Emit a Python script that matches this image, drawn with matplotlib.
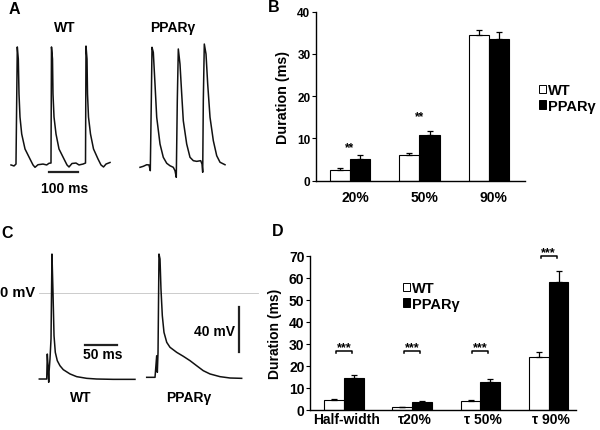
import matplotlib
matplotlib.use('Agg')
import matplotlib.pyplot as plt
import numpy as np
from matplotlib.patches import Patch

plt.rcParams['font.family'] = ['Liberation Sans', 'DejaVu Sans']
plt.rcParams['font.weight'] = 'bold'
plt.rcParams['axes.labelweight'] = 'bold'

# ---------------- data ----------------
# Panel A: spontaneous action potentials (time ms, voltage mV)
a_wt_t = [0, 10.3, 17.2, 21.7, 25.2, 27.6, 31.0, 36.9, 48.3, 65.5, 75.9, 82.8, 93.1, 110.3, 123.1, 131.0,
          137.9, 139.6, 143.1, 144.8, 148.3, 155.2, 165.5, 182.7, 193.1, 200.0, 210.3, 224.1, 234.5, 248.3,
          256.9, 258.6, 262.1, 263.8, 267.2, 274.1, 284.5, 300.0, 310.3, 319.0, 327.6, 341.4]
a_wt_v = [-74.9, -75.8, -74.1, 30.0, 19.3, -11.8, -32.3, -47.4, -60.7, -69.6, -74.9, -77.0, -74.7, -74.1,
          -74.9, -73.4, -73.2, 30.0, 19.3, -11.8, -32.3, -47.4, -60.7, -69.6, -74.9, -76.7, -73.6, -73.2,
          -74.9, -74.1, -73.2, 30.8, 19.3, -11.8, -32.3, -47.4, -60.7, -69.6, -74.9, -76.7, -74.1, -72.7]
a_pp_t = [0, 11.4, 23.1, 31.0, 35.5, 39.0, 41.4, 45.9, 51.7, 57.6, 69.0, 80.3, 92.1, 103.4, 114.8, 120.7,
          125.1, 128.6, 132.1, 137.9, 143.8, 149.3, 161.0, 172.4, 183.8, 195.5, 209.3, 213.8, 216.2, 218.3,
          221.7, 227.6, 233.4, 241.4, 252.8, 264.5, 275.9, 293.1]
a_pp_v = [-77.0, -76.1, -74.7, -74.9, -80.0, -17.8, 29.7, 25.2, -2.9, -32.5, -56.3, -68.1, -73.4, -75.6,
          -77.0, -80.0, -85.9, -17.8, 28.2, 14.8, -11.8, -35.6, -56.3, -68.1, -71.1, -71.7, -71.1, -74.1,
          -81.4, -17.8, 32.6, 23.7, -2.9, -32.5, -53.3, -66.7, -72.5, -74.7]

# Panel C: evoked single action potentials (time ms, voltage mV)
c_wt_t = [0, 11.6, 12.5, 13.6, 14.7, 15.2, 16.7, 18.3, 19.8, 21.4, 23.0, 25.0, 28.1, 32.3, 37.5, 48.0,
          58.4, 74.1, 89.7, 115.6, 149.5]
c_wt_v = [-76.2, -76.2, -54.0, -64.4, -79.1, -70.2, -58.4, -40.6, 34.9, 0.9, -37.7, -52.5, -59.9, -64.4,
          -67.9, -71.7, -74.1, -75.6, -76.2, -76.5, -76.5]
c_pp_t = [0, 13.0, 15.6, 16.6, 17.7, 19.2, 20.8, 22.3, 24.4, 27.0, 31.3, 36.4, 46.9, 57.2, 67.7, 78.1,
          88.4, 98.9, 114.5, 130.2, 148.4]
c_pp_v = [-74.7, -74.7, -55.5, -70.2, -52.5, 34.9, 30.5, 3.8, -19.9, -34.7, -43.6, -48.0, -52.5, -56.0,
          -59.9, -64.4, -68.8, -71.7, -74.1, -75.3, -75.6]

# Panel B: APD (ms)
b_cats = ['20%', '50%', '90%']
b_wt = [2.5, 6.0, 34.5]
b_wt_err = [0.4, 0.5, 1.2]
b_pp = [5.1, 10.7, 33.5]
b_pp_err = [1.0, 1.1, 1.6]
b_sig = ['**', '**', '']
b_sig_y = [7.3, 14.6, 0]

# Panel D: durations (ms)
d_cats = ['Half-width', 'τ20%', 'τ 50%', 'τ 90%']
d_wt = [4.3, 1.1, 3.8, 23.8]
d_wt_err = [0.5, 0.2, 0.6, 2.6]
d_pp = [14.3, 3.5, 12.7, 57.9]
d_pp_err = [1.6, 0.6, 1.3, 5.3]
d_sig = ['***', '***', '***', '***']
d_sig_y = [26.8, 26.8, 26.8, 70]

labels = ['WT', 'PPARγ']

# ---------------- layout helpers ----------------
W, H = 600, 431
fig = plt.figure(figsize=(6, 4.31), dpi=100)


def box(x0, y0, x1, y1):
    return [x0 / W, 1 - y1 / H, (x1 - x0) / W, (y1 - y0) / H]


def ftext(x, y, s, **kw):
    kw.setdefault('ha', 'center')
    kw.setdefault('va', 'center')
    kw.setdefault('fontweight', 'bold')
    fig.text(x / W, 1 - y / H, s, **kw)


def trace_axes(x0, y0, x1, y1, t_px0, ms_px, v_px0, mv_px):
    ax = fig.add_axes(box(x0, y0, x1, y1))
    ax.set_xlim((x0 - t_px0) * ms_px, (x1 - t_px0) * ms_px)
    ax.set_ylim((v_px0 - y1) * mv_px, (v_px0 - y0) * mv_px)
    ax.axis('off')
    return ax


TR = dict(color='#111111', lw=1.1)

# ---------------- Panel A ----------------
axA1 = trace_axes(5, 38, 118, 185, 11, 3.448, 81.7, 0.889)
axA1.plot(a_wt_t, a_wt_v, **TR)
axA1.plot([131, 231], [-81.2, -81.2], color='#222222', lw=1.6, clip_on=False)
axA2 = trace_axes(132, 38, 232, 185, 140, 3.448, 81.7, 0.889)
axA2.plot(a_pp_t, a_pp_v, **TR)

ftext(14.5, 10, 'A', fontsize=11.5)
ftext(65, 28, 'WT', fontsize=10)
ftext(172.5, 28, 'PPARγ', fontsize=10)
ftext(64.5, 189, '100 ms', fontsize=10)

# ---------------- Panel C ----------------
axC1 = trace_axes(35, 245, 142, 392, 39.3, 1.5625, 294.3, 0.889)
axC1.plot([0, 341.7], [0, 0], color='#c4c4c4', lw=0.6, clip_on=False, zorder=0)
axC1.plot(c_wt_t, c_wt_v, **TR)
axC1.plot([71.4, 121.4], [-45.7, -45.7], color='#222222', lw=1.6, clip_on=False)
axC2 = trace_axes(142, 245, 250, 392, 146.7, 1.5625, 294.3, 0.889)
axC2.plot(c_pp_t, c_pp_v, **TR)
axC2.plot([143.75, 143.75], [-12.2, -52.2], color='#222222', lw=1.6, clip_on=False)

ftext(7.5, 233, 'C', fontsize=11.5)
ftext(0, 293, '0 mV', fontsize=10.5, ha='left')
ftext(103, 355, '50 ms', fontsize=10)
ftext(235, 332, '40 mV', fontsize=10, ha='right')
ftext(81, 398, 'WT', fontsize=10)
ftext(189, 398, 'PPARγ', fontsize=10)


# ---------------- bar panels ----------------
def bar_panel(rect, cats, wt, wt_err, pp, pp_err, xlim, ylim, yticks, tick_fs, xt_fs, xt_pad, xt_shift):
    ax = fig.add_axes(rect)
    x = np.arange(len(cats))
    w = 0.29
    ekw = dict(ecolor='black', elinewidth=0.9, capsize=2.5, capthick=0.9)
    ax.bar(x - w / 2, wt, w, yerr=[np.zeros(len(wt)), wt_err], color='white',
           edgecolor='black', linewidth=0.8, error_kw=ekw)
    ax.bar(x + w / 2, pp, w, yerr=[np.zeros(len(pp)), pp_err], color='black',
           edgecolor='black', linewidth=0.8, error_kw=ekw)
    ax.set_xlim(*xlim)
    ax.set_ylim(*ylim)
    ax.set_yticks(yticks)
    ax.set_xticks(x + xt_shift)
    ax.set_xticklabels(cats, fontsize=xt_fs, fontweight='bold')
    ax.tick_params(axis='x', length=0, pad=xt_pad)
    ax.tick_params(axis='y', length=3, width=0.8, pad=1, labelsize=tick_fs)
    for lab in ax.get_yticklabels():
        lab.set_fontweight('bold')
    for s in ['top', 'right']:
        ax.spines[s].set_visible(False)
    for s in ['left', 'bottom']:
        ax.spines[s].set_linewidth(1.0)
    return ax, x


# Panel B
axB, xB = bar_panel(box(316, 12.7, 525, 181.7), b_cats, b_wt, b_wt_err, b_pp, b_pp_err,
                    (-0.49, 2.52), (0, 40), [0, 10, 20, 30, 40], 8.5, 10, 7, 0.07)
axB.set_ylabel('Duration (ms)', fontsize=10.3, fontweight='bold')
axB.yaxis.set_label_coords(-0.124, 0.5)
for xi, s, yy in zip(xB, b_sig, b_sig_y):
    if s:
        axB.text(xi, yy, s, ha='center', va='baseline', fontsize=8.5, fontweight='bold')
ftext(274, 7.5, 'B', fontsize=11.5)

handles = [Patch(facecolor='white', edgecolor='black', linewidth=0.7),
           Patch(facecolor='black', edgecolor='black', linewidth=0.7)]
fig.legend(handles, labels, loc='upper left', bbox_to_anchor=(539 / W, 1 - 84 / H),
           frameon=False, handlelength=0.5, handleheight=0.5, handletextpad=0.15,
           borderpad=0, borderaxespad=0, labelspacing=0.12,
           prop=dict(family='Liberation Sans', weight='bold', size=10.5))

# Panel D
axD, xD = bar_panel(box(310, 256.7, 576, 410.7), d_cats, d_wt, d_wt_err, d_pp, d_pp_err,
                    (-0.4985, 3.40), (0, 70), list(range(0, 71, 10)), 10, 10, 1.8, 0.04)
axD.set_ylabel('Duration (ms)', fontsize=10, fontweight='bold')
axD.yaxis.set_label_coords(-0.106, 0.5)
for xi, s, yy in zip(xD, d_sig, d_sig_y):
    axD.plot([xi - 0.117, xi - 0.117, xi + 0.117, xi + 0.117], [yy - 1.2, yy, yy, yy - 1.2],
             color='black', lw=1.1, clip_on=False)
    axD.text(xi, yy + 0.3, s, ha='center', va='baseline', fontsize=9, fontweight='bold', clip_on=False)
ftext(277.5, 231.5, 'D', fontsize=11.5)

fig.legend(handles, labels, loc='upper left', bbox_to_anchor=(403 / W, 1 - 282 / H),
           frameon=False, handlelength=0.5, handleheight=0.5, handletextpad=0.15,
           borderpad=0, borderaxespad=0, labelspacing=0.12,
           prop=dict(family='Liberation Sans', weight='bold', size=10.5))

fig.savefig('out.png', dpi=100)
